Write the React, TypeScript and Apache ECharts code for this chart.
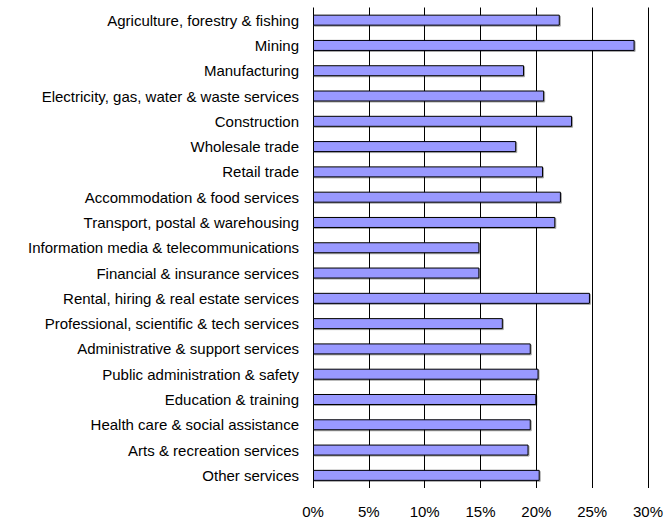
import React, { useEffect, useRef } from "react";
import * as echarts from "echarts";

const categories = [
  "Agriculture, forestry & fishing",
  "Mining",
  "Manufacturing",
  "Electricity, gas, water & waste services",
  "Construction",
  "Wholesale trade",
  "Retail trade",
  "Accommodation & food services",
  "Transport, postal & warehousing",
  "Information media & telecommunications",
  "Financial & insurance services",
  "Rental, hiring & real estate services",
  "Professional, scientific & tech services",
  "Administrative & support services",
  "Public administration & safety",
  "Education & training",
  "Health care & social assistance",
  "Arts & recreation services",
  "Other services",
];

const values = [
  22.1, 28.8, 18.9, 20.7, 23.2, 18.2, 20.6, 22.2, 21.7, 14.9, 14.9, 24.8, 17.0,
  19.5, 20.2, 20.0, 19.5, 19.3, 20.3,
];

const FONT = "'Liberation Sans', Arial, sans-serif";

export default function App() {
  const ref = useRef<HTMLDivElement>(null);
  useEffect(() => {
    if (!ref.current) return;
    const chart = echarts.init(ref.current, null, { renderer: "svg" });
    chart.setOption({
      animation: false,
      backgroundColor: "#ffffff",
      grid: { left: 313, right: 17, top: 7.5, bottom: 34, containLabel: false },
      xAxis: {
        type: "value",
        min: 0,
        max: 30,
        interval: 5,
        axisLine: { show: false },
        axisTick: { show: false },
        splitLine: { show: true, lineStyle: { color: "#000", width: 1 } },
        axisLabel: {
          formatter: "{value}%",
          color: "#000",
          fontFamily: FONT,
          fontSize: 15,
          margin: 16,
        },
      },
      yAxis: {
        type: "category",
        data: categories,
        inverse: true,
        axisLine: { show: false },
        axisTick: { show: false },
        splitLine: { show: false },
        axisLabel: {
          color: "#000",
          fontFamily: FONT,
          fontSize: 15,
          margin: 14,
        },
      },
      series: [
        {
          type: "bar",
          data: values,
          barWidth: 11,
          itemStyle: {
            color: "#9999ff",
            borderColor: "#000",
            borderWidth: 1,
            shadowColor: "rgba(0,0,0,0.35)",
            shadowOffsetX: 1,
            shadowOffsetY: 1,
            shadowBlur: 0,
          },
        },
      ],
    });
    return () => chart.dispose();
  }, []);
  return (
    <div
      ref={ref}
      style={{ position: "fixed", left: 0, top: 0, width: 666, height: 522 }}
    />
  );
}
